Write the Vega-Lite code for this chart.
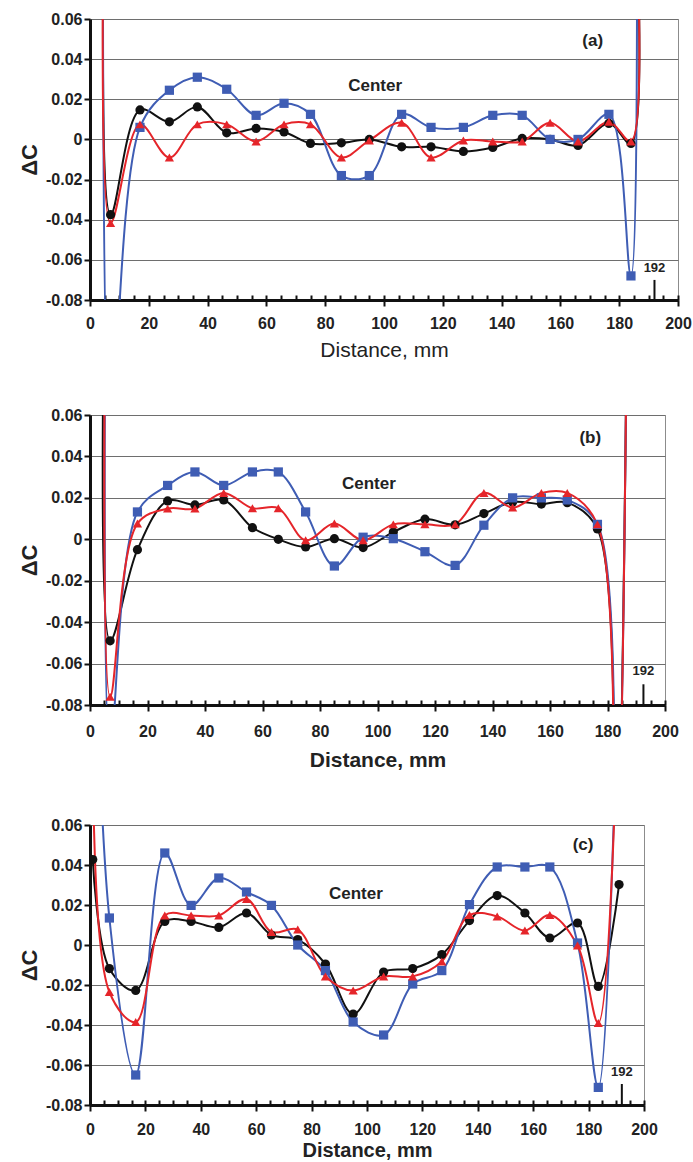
{
  "$schema": "https://vega.github.io/schema/vega-lite/v6.json",
  "background": "white",
  "padding": {"left": 18, "top": 10, "right": 0, "bottom": 0},
  "spacing": 45,
  "config": {
    "view": {"stroke": "#8c8c8c", "strokeWidth": 1},
    "font": "Liberation Sans",
    "text": {"font": "Liberation Sans"}
  },
  "datasets": {
    "a": [
      {"s": "k", "x": 5, "v": 0.15}, {"s": "k", "x": 7, "v": -0.0375}, {"s": "k", "x": 17, "v": 0.0147}, {"s": "k", "x": 27, "v": 0.0088}, {"s": "k", "x": 36.5, "v": 0.0162}, {"s": "k", "x": 46.5, "v": 0.0033}, {"s": "k", "x": 56.5, "v": 0.0055}, {"s": "k", "x": 66, "v": 0.0037}, {"s": "k", "x": 75, "v": -0.002}, {"s": "k", "x": 85.5, "v": -0.0017}, {"s": "k", "x": 95, "v": 0.0}, {"s": "k", "x": 106, "v": -0.0037}, {"s": "k", "x": 116, "v": -0.0037}, {"s": "k", "x": 127, "v": -0.006}, {"s": "k", "x": 137, "v": -0.004}, {"s": "k", "x": 147, "v": 0.0005}, {"s": "k", "x": 156.5, "v": 0.0}, {"s": "k", "x": 166, "v": -0.003}, {"s": "k", "x": 176.5, "v": 0.008}, {"s": "k", "x": 184, "v": -0.002}, {"s": "k", "x": 185.5, "v": 0.12},
      {"s": "b", "x": 4.5, "v": 0.2}, {"s": "b", "x": 7, "v": -0.14}, {"s": "b", "x": 17, "v": 0.006}, {"s": "b", "x": 27, "v": 0.0245}, {"s": "b", "x": 36.5, "v": 0.031}, {"s": "b", "x": 46.5, "v": 0.025}, {"s": "b", "x": 56.5, "v": 0.012}, {"s": "b", "x": 66, "v": 0.018}, {"s": "b", "x": 75, "v": 0.0125}, {"s": "b", "x": 85.5, "v": -0.018}, {"s": "b", "x": 95, "v": -0.018}, {"s": "b", "x": 106, "v": 0.0125}, {"s": "b", "x": 116, "v": 0.006}, {"s": "b", "x": 127, "v": 0.006}, {"s": "b", "x": 137, "v": 0.012}, {"s": "b", "x": 147, "v": 0.012}, {"s": "b", "x": 156.5, "v": 0.0}, {"s": "b", "x": 166, "v": 0.0}, {"s": "b", "x": 176.5, "v": 0.0125}, {"s": "b", "x": 184, "v": -0.068}, {"s": "b", "x": 186, "v": 0.12},
      {"s": "r", "x": 5, "v": 0.15}, {"s": "r", "x": 7, "v": -0.0417}, {"s": "r", "x": 17, "v": 0.0075}, {"s": "r", "x": 27, "v": -0.009}, {"s": "r", "x": 36.5, "v": 0.0075}, {"s": "r", "x": 46.5, "v": 0.0075}, {"s": "r", "x": 56.5, "v": -0.001}, {"s": "r", "x": 66, "v": 0.0075}, {"s": "r", "x": 75, "v": 0.0075}, {"s": "r", "x": 85.5, "v": -0.009}, {"s": "r", "x": 95, "v": -0.0005}, {"s": "r", "x": 106, "v": 0.0083}, {"s": "r", "x": 116, "v": -0.009}, {"s": "r", "x": 127, "v": -0.0005}, {"s": "r", "x": 137, "v": -0.001}, {"s": "r", "x": 147, "v": -0.001}, {"s": "r", "x": 156.5, "v": 0.0083}, {"s": "r", "x": 166, "v": -0.001}, {"s": "r", "x": 176.5, "v": 0.0088}, {"s": "r", "x": 184, "v": -0.001}, {"s": "r", "x": 185.5, "v": 0.12}
    ],
    "b": [
      {"s": "k", "x": 5, "v": 0.12}, {"s": "k", "x": 7, "v": -0.049}, {"s": "k", "x": 16.5, "v": -0.005}, {"s": "k", "x": 27, "v": 0.0185}, {"s": "k", "x": 36.5, "v": 0.0166}, {"s": "k", "x": 46.5, "v": 0.019}, {"s": "k", "x": 56.5, "v": 0.0056}, {"s": "k", "x": 65.5, "v": 0.0}, {"s": "k", "x": 75, "v": -0.0037}, {"s": "k", "x": 85, "v": 0.0003}, {"s": "k", "x": 95, "v": -0.004}, {"s": "k", "x": 105.5, "v": 0.0035}, {"s": "k", "x": 116.5, "v": 0.0097}, {"s": "k", "x": 127, "v": 0.007}, {"s": "k", "x": 137, "v": 0.0124}, {"s": "k", "x": 147, "v": 0.018}, {"s": "k", "x": 157, "v": 0.017}, {"s": "k", "x": 166, "v": 0.0177}, {"s": "k", "x": 176.5, "v": 0.005}, {"s": "k", "x": 183, "v": -0.15}, {"s": "k", "x": 187, "v": 0.15},
      {"s": "b", "x": 5.5, "v": 0.15}, {"s": "b", "x": 7, "v": -0.1}, {"s": "b", "x": 16.5, "v": 0.0132}, {"s": "b", "x": 27, "v": 0.026}, {"s": "b", "x": 36.5, "v": 0.0325}, {"s": "b", "x": 46.5, "v": 0.026}, {"s": "b", "x": 56.5, "v": 0.0325}, {"s": "b", "x": 65.5, "v": 0.0325}, {"s": "b", "x": 75, "v": 0.0132}, {"s": "b", "x": 85, "v": -0.0129}, {"s": "b", "x": 95, "v": 0.001}, {"s": "b", "x": 105.5, "v": 0.0003}, {"s": "b", "x": 116.5, "v": -0.006}, {"s": "b", "x": 127, "v": -0.0126}, {"s": "b", "x": 137, "v": 0.0068}, {"s": "b", "x": 147, "v": 0.02}, {"s": "b", "x": 157, "v": 0.02}, {"s": "b", "x": 166, "v": 0.019}, {"s": "b", "x": 176.5, "v": 0.0072}, {"s": "b", "x": 183, "v": -0.16}, {"s": "b", "x": 187, "v": 0.15},
      {"s": "r", "x": 5.5, "v": 0.15}, {"s": "r", "x": 7, "v": -0.076}, {"s": "r", "x": 16.5, "v": 0.0076}, {"s": "r", "x": 27, "v": 0.0148}, {"s": "r", "x": 36.5, "v": 0.0148}, {"s": "r", "x": 46.5, "v": 0.0224}, {"s": "r", "x": 56.5, "v": 0.015}, {"s": "r", "x": 65.5, "v": 0.015}, {"s": "r", "x": 75, "v": -0.0005}, {"s": "r", "x": 85, "v": 0.0076}, {"s": "r", "x": 95, "v": -0.0005}, {"s": "r", "x": 105.5, "v": 0.0072}, {"s": "r", "x": 116.5, "v": 0.0072}, {"s": "r", "x": 127, "v": 0.0072}, {"s": "r", "x": 137, "v": 0.0224}, {"s": "r", "x": 147, "v": 0.0153}, {"s": "r", "x": 157, "v": 0.0224}, {"s": "r", "x": 166, "v": 0.0224}, {"s": "r", "x": 176.5, "v": 0.0072}, {"s": "r", "x": 183, "v": -0.16}, {"s": "r", "x": 187, "v": 0.15}
    ],
    "c": [
      {"s": "k", "x": 1, "v": 0.0427}, {"s": "k", "x": 7, "v": -0.0118}, {"s": "k", "x": 16.5, "v": -0.0227}, {"s": "k", "x": 27, "v": 0.0118}, {"s": "k", "x": 36.5, "v": 0.0118}, {"s": "k", "x": 46.5, "v": 0.0088}, {"s": "k", "x": 56.5, "v": 0.016}, {"s": "k", "x": 65.5, "v": 0.005}, {"s": "k", "x": 75, "v": 0.0027}, {"s": "k", "x": 85, "v": -0.0095}, {"s": "k", "x": 95, "v": -0.0345}, {"s": "k", "x": 106, "v": -0.0135}, {"s": "k", "x": 116.5, "v": -0.0118}, {"s": "k", "x": 127, "v": -0.0048}, {"s": "k", "x": 137, "v": 0.0122}, {"s": "k", "x": 147, "v": 0.0247}, {"s": "k", "x": 157, "v": 0.016}, {"s": "k", "x": 166, "v": 0.0035}, {"s": "k", "x": 176, "v": 0.011}, {"s": "k", "x": 183.5, "v": -0.0207}, {"s": "k", "x": 191, "v": 0.0302},
      {"s": "b", "x": 1, "v": 0.2}, {"s": "b", "x": 7, "v": 0.0135}, {"s": "b", "x": 16.5, "v": -0.065}, {"s": "b", "x": 27, "v": 0.046}, {"s": "b", "x": 36.5, "v": 0.0198}, {"s": "b", "x": 46.5, "v": 0.0335}, {"s": "b", "x": 56.5, "v": 0.0265}, {"s": "b", "x": 65.5, "v": 0.0198}, {"s": "b", "x": 75, "v": 0.0}, {"s": "b", "x": 85, "v": -0.0128}, {"s": "b", "x": 95, "v": -0.0385}, {"s": "b", "x": 106, "v": -0.045}, {"s": "b", "x": 116.5, "v": -0.0195}, {"s": "b", "x": 127, "v": -0.0128}, {"s": "b", "x": 137, "v": 0.0202}, {"s": "b", "x": 147, "v": 0.039}, {"s": "b", "x": 157, "v": 0.039}, {"s": "b", "x": 166, "v": 0.039}, {"s": "b", "x": 176, "v": 0.001}, {"s": "b", "x": 183.5, "v": -0.0712}, {"s": "b", "x": 191, "v": 0.16},
      {"s": "r", "x": 1, "v": 0.12}, {"s": "r", "x": 7, "v": -0.0235}, {"s": "r", "x": 16.5, "v": -0.0385}, {"s": "r", "x": 27, "v": 0.0148}, {"s": "r", "x": 36.5, "v": 0.0148}, {"s": "r", "x": 46.5, "v": 0.0148}, {"s": "r", "x": 56.5, "v": 0.023}, {"s": "r", "x": 65.5, "v": 0.0065}, {"s": "r", "x": 75, "v": 0.0077}, {"s": "r", "x": 85, "v": -0.0157}, {"s": "r", "x": 95, "v": -0.0228}, {"s": "r", "x": 106, "v": -0.0157}, {"s": "r", "x": 116.5, "v": -0.0157}, {"s": "r", "x": 127, "v": -0.0082}, {"s": "r", "x": 137, "v": 0.015}, {"s": "r", "x": 147, "v": 0.0143}, {"s": "r", "x": 157, "v": 0.0072}, {"s": "r", "x": 166, "v": 0.015}, {"s": "r", "x": 176, "v": -0.0003}, {"s": "r", "x": 183.5, "v": -0.039}, {"s": "r", "x": 191, "v": 0.14}
    ]
  },
  "vconcat": [
    {
      "width": 588, "height": 281,
      "data": {"name": "a"},
      "resolve": {"axis": {"x": "independent"}},
      "encoding": {
        "y": {"field": "v", "type": "quantitative", "scale": {"domain": [-0.08, 0.06], "nice": false, "zero": false},
          "axis": {"values": [-0.08, -0.06, -0.04, -0.02, 0, 0.02, 0.04, 0.06], "labelExpr": "datum.value == 0 ? '0' : (datum.value < 0 ? '-' : '') + format(abs(datum.value), '.2f')", "title": "ΔC", "titleFontSize": 22, "titleFontWeight": "bold", "titleColor": "#222", "titlePadding": 4, "labelFontSize": 16, "labelFontWeight": "bold", "labelColor": "#222", "labelPadding": 2, "tickSize": 6, "tickWidth": 2, "tickColor": "#111", "domainWidth": 3, "domainColor": "#111", "grid": true, "gridColor": "#6e6e6e", "gridWidth": 1, "labelFlush": false}}
      },
      "layer": [
        {
          "mark": {"type": "line", "interpolate": "catmull-rom", "strokeWidth": 2, "clip": true},
          "encoding": {
            "x": {"field": "x", "type": "quantitative", "scale": {"domain": [0, 200], "nice": false},
              "axis": {"orient": "bottom", "values": [0, 20, 40, 60, 80, 100, 120, 140, 160, 180, 200], "title": "Distance, mm", "titleFontSize": 21, "titleFontWeight": "normal", "titleColor": "#222", "titlePadding": 8, "labelFontSize": 16, "labelFontWeight": "bold", "labelColor": "#222", "labelPadding": 9, "tickSize": 6, "tickWidth": 2, "tickColor": "#111", "domainWidth": 3, "domainColor": "#111", "grid": false, "labelFlush": false}},
            "color": {"field": "s", "type": "nominal", "scale": {"domain": ["k", "b", "r"], "range": ["#111111", "#3f5db4", "#e5252a"]}, "legend": null}
          }
        },
        {
          "mark": {"type": "point", "filled": true, "opacity": 1, "size": 85, "clip": true},
          "encoding": {
            "x": {"field": "x", "type": "quantitative", "axis": null},
            "color": {"field": "s", "type": "nominal", "scale": {"domain": ["k", "b", "r"], "range": ["#111111", "#3f5db4", "#e5252a"]}, "legend": null},
            "shape": {"field": "s", "type": "nominal", "scale": {"domain": ["k", "b", "r"], "range": ["circle", "square", "triangle-up"]}, "legend": null}
          }
        },
        {
          "data": {"values": [{"x": 97, "v": 0.0266, "t": "Center"}, {"x": 171, "v": 0.049, "t": "(a)"}]},
          "mark": {"type": "text", "fontWeight": "bold", "fontSize": 17, "color": "#222"},
          "encoding": {
            "x": {"field": "x", "type": "quantitative", "axis": null},
            "text": {"field": "t"}
          }
        },
        {
          "data": {"values": [{"x": 192, "v": -0.064, "t": "192"}]},
          "mark": {"type": "text", "fontWeight": "bold", "fontSize": 13, "color": "#222"},
          "encoding": {
            "x": {"field": "x", "type": "quantitative", "axis": null},
            "text": {"field": "t"}
          }
        },
        {
          "data": {"values": [{"x": 192, "v": -0.08, "v2": -0.07}]},
          "mark": {"type": "rule", "strokeWidth": 2, "color": "#111"},
          "encoding": {
            "x": {"field": "x", "type": "quantitative",
              "axis": {"orient": "bottom", "values": [0, 5, 10, 15, 20, 25, 30, 35, 40, 45, 50, 55, 60, 65, 70, 75, 80, 85, 90, 95, 100, 105, 110, 115, 120, 125, 130, 135, 140, 145, 150, 155, 160, 165, 170, 175, 180, 185, 190, 195, 200], "labels": false, "domain": false, "grid": false, "title": null, "tickSize": -5, "tickWidth": 2, "tickColor": "#111"}},
            "y2": {"field": "v2"}
          }
        }
      ]
    },
    {
      "width": 575, "height": 290,
      "data": {"name": "b"},
      "resolve": {"axis": {"x": "independent"}},
      "encoding": {
        "y": {"field": "v", "type": "quantitative", "scale": {"domain": [-0.08, 0.06], "nice": false, "zero": false},
          "axis": {"values": [-0.08, -0.06, -0.04, -0.02, 0, 0.02, 0.04, 0.06], "labelExpr": "datum.value == 0 ? '0' : (datum.value < 0 ? '-' : '') + format(abs(datum.value), '.2f')", "title": "ΔC", "titleFontSize": 22, "titleFontWeight": "bold", "titleColor": "#222", "titlePadding": 4, "labelFontSize": 16, "labelFontWeight": "bold", "labelColor": "#222", "labelPadding": 2, "tickSize": 6, "tickWidth": 2, "tickColor": "#111", "domainWidth": 3, "domainColor": "#111", "grid": true, "gridColor": "#6e6e6e", "gridWidth": 1, "labelFlush": false}}
      },
      "layer": [
        {
          "mark": {"type": "line", "interpolate": "catmull-rom", "strokeWidth": 2, "clip": true},
          "encoding": {
            "x": {"field": "x", "type": "quantitative", "scale": {"domain": [0, 200], "nice": false},
              "axis": {"orient": "bottom", "values": [0, 20, 40, 60, 80, 100, 120, 140, 160, 180, 200], "title": "Distance, mm", "titleFontSize": 21, "titleFontWeight": "bold", "titleColor": "#222", "titlePadding": 10, "labelFontSize": 16, "labelFontWeight": "bold", "labelColor": "#222", "labelPadding": 12, "tickSize": 6, "tickWidth": 2, "tickColor": "#111", "domainWidth": 3, "domainColor": "#111", "grid": false, "labelFlush": false}},
            "color": {"field": "s", "type": "nominal", "scale": {"domain": ["k", "b", "r"], "range": ["#111111", "#3f5db4", "#e5252a"]}, "legend": null}
          }
        },
        {
          "mark": {"type": "point", "filled": true, "opacity": 1, "size": 85, "clip": true},
          "encoding": {
            "x": {"field": "x", "type": "quantitative", "axis": null},
            "color": {"field": "s", "type": "nominal", "scale": {"domain": ["k", "b", "r"], "range": ["#111111", "#3f5db4", "#e5252a"]}, "legend": null},
            "shape": {"field": "s", "type": "nominal", "scale": {"domain": ["k", "b", "r"], "range": ["circle", "square", "triangle-up"]}, "legend": null}
          }
        },
        {
          "data": {"values": [{"x": 97, "v": 0.0267, "t": "Center"}, {"x": 174, "v": 0.049, "t": "(b)"}]},
          "mark": {"type": "text", "fontWeight": "bold", "fontSize": 17, "color": "#222"},
          "encoding": {
            "x": {"field": "x", "type": "quantitative", "axis": null},
            "text": {"field": "t"}
          }
        },
        {
          "data": {"values": [{"x": 192.5, "v": -0.0636, "t": "192"}]},
          "mark": {"type": "text", "fontWeight": "bold", "fontSize": 13, "color": "#222"},
          "encoding": {
            "x": {"field": "x", "type": "quantitative", "axis": null},
            "text": {"field": "t"}
          }
        },
        {
          "data": {"values": [{"x": 192.5, "v": -0.08, "v2": -0.07}]},
          "mark": {"type": "rule", "strokeWidth": 2, "color": "#111"},
          "encoding": {
            "x": {"field": "x", "type": "quantitative",
              "axis": {"orient": "bottom", "values": [0, 5, 10, 15, 20, 25, 30, 35, 40, 45, 50, 55, 60, 65, 70, 75, 80, 85, 90, 95, 100, 105, 110, 115, 120, 125, 130, 135, 140, 145, 150, 155, 160, 165, 170, 175, 180, 185, 190, 195, 200], "labels": false, "domain": false, "grid": false, "title": null, "tickSize": -5, "tickWidth": 2, "tickColor": "#111"}},
            "y2": {"field": "v2"}
          }
        }
      ]
    },
    {
      "width": 554, "height": 280,
      "data": {"name": "c"},
      "resolve": {"axis": {"x": "independent"}},
      "encoding": {
        "y": {"field": "v", "type": "quantitative", "scale": {"domain": [-0.08, 0.06], "nice": false, "zero": false},
          "axis": {"values": [-0.08, -0.06, -0.04, -0.02, 0, 0.02, 0.04, 0.06], "labelExpr": "datum.value == 0 ? '0' : (datum.value < 0 ? '-' : '') + format(abs(datum.value), '.2f')", "title": "ΔC", "titleFontSize": 22, "titleFontWeight": "bold", "titleColor": "#222", "titlePadding": 4, "labelFontSize": 16, "labelFontWeight": "bold", "labelColor": "#222", "labelPadding": 2, "tickSize": 6, "tickWidth": 2, "tickColor": "#111", "domainWidth": 3, "domainColor": "#111", "grid": true, "gridColor": "#6e6e6e", "gridWidth": 1, "labelFlush": false}}
      },
      "layer": [
        {
          "mark": {"type": "line", "interpolate": "catmull-rom", "strokeWidth": 2, "clip": true},
          "encoding": {
            "x": {"field": "x", "type": "quantitative", "scale": {"domain": [0, 200], "nice": false},
              "axis": {"orient": "bottom", "values": [0, 20, 40, 60, 80, 100, 120, 140, 160, 180, 200], "title": "Distance, mm", "titleFontSize": 20, "titleFontWeight": "bold", "titleColor": "#222", "titlePadding": 3, "labelFontSize": 16, "labelFontWeight": "bold", "labelColor": "#222", "labelPadding": 10, "tickSize": 6, "tickWidth": 2, "tickColor": "#111", "domainWidth": 3, "domainColor": "#111", "grid": false, "labelFlush": false}},
            "color": {"field": "s", "type": "nominal", "scale": {"domain": ["k", "b", "r"], "range": ["#111111", "#3f5db4", "#e5252a"]}, "legend": null}
          }
        },
        {
          "mark": {"type": "point", "filled": true, "opacity": 1, "size": 85, "clip": true},
          "encoding": {
            "x": {"field": "x", "type": "quantitative", "axis": null},
            "color": {"field": "s", "type": "nominal", "scale": {"domain": ["k", "b", "r"], "range": ["#111111", "#3f5db4", "#e5252a"]}, "legend": null},
            "shape": {"field": "s", "type": "nominal", "scale": {"domain": ["k", "b", "r"], "range": ["circle", "square", "triangle-up"]}, "legend": null}
          }
        },
        {
          "data": {"values": [{"x": 96, "v": 0.0255, "t": "Center"}, {"x": 178, "v": 0.05, "t": "(c)"}]},
          "mark": {"type": "text", "fontWeight": "bold", "fontSize": 17, "color": "#222"},
          "encoding": {
            "x": {"field": "x", "type": "quantitative", "axis": null},
            "text": {"field": "t"}
          }
        },
        {
          "data": {"values": [{"x": 192, "v": -0.0635, "t": "192"}]},
          "mark": {"type": "text", "fontWeight": "bold", "fontSize": 13, "color": "#222"},
          "encoding": {
            "x": {"field": "x", "type": "quantitative", "axis": null},
            "text": {"field": "t"}
          }
        },
        {
          "data": {"values": [{"x": 192, "v": -0.08, "v2": -0.0695}]},
          "mark": {"type": "rule", "strokeWidth": 2, "color": "#111"},
          "encoding": {
            "x": {"field": "x", "type": "quantitative",
              "axis": {"orient": "bottom", "values": [0, 5, 10, 15, 20, 25, 30, 35, 40, 45, 50, 55, 60, 65, 70, 75, 80, 85, 90, 95, 100, 105, 110, 115, 120, 125, 130, 135, 140, 145, 150, 155, 160, 165, 170, 175, 180, 185, 190, 195, 200], "labels": false, "domain": false, "grid": false, "title": null, "tickSize": -5, "tickWidth": 2, "tickColor": "#111"}},
            "y2": {"field": "v2"}
          }
        }
      ]
    }
  ]
}
